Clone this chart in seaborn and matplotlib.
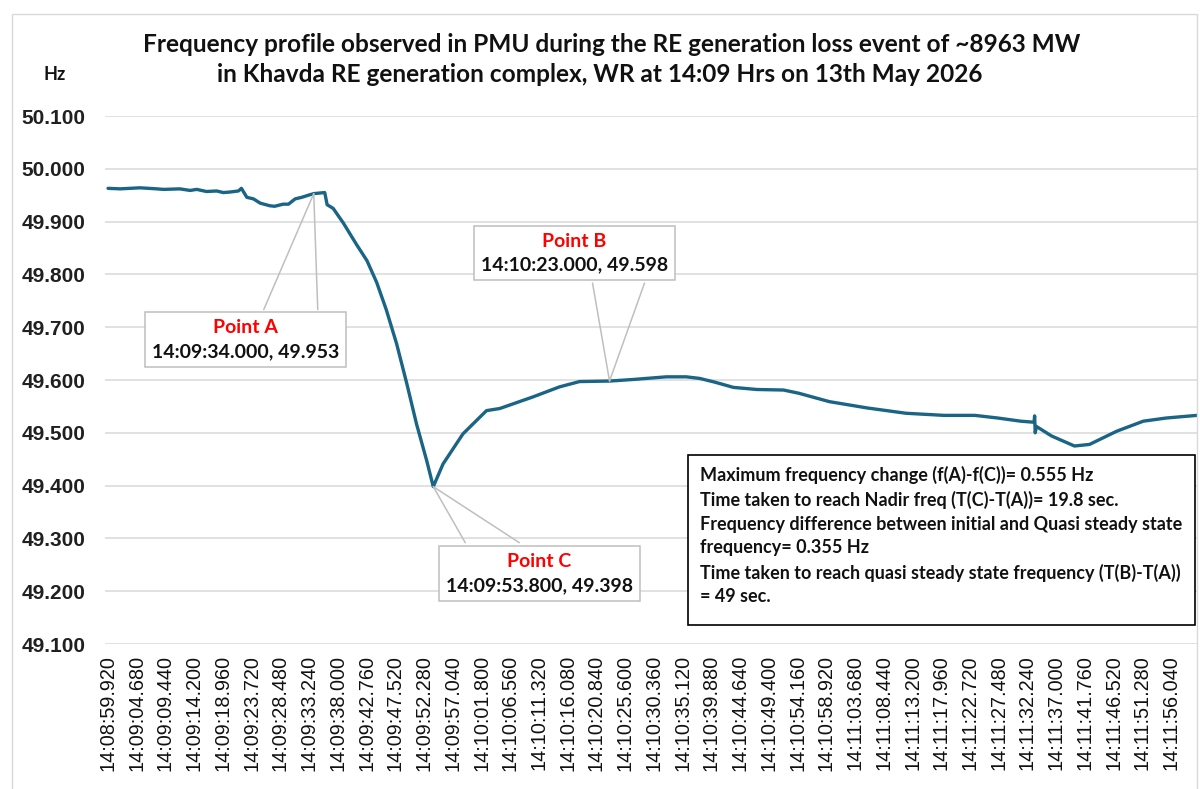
import matplotlib
matplotlib.use("Agg")
import matplotlib.pyplot as plt
import seaborn as sns
import pandas as pd
from matplotlib.patches import Rectangle
from matplotlib.offsetbox import TextArea, VPacker, AnnotationBbox

# ---------------- data ----------------
tick_labels = [
    "14:08:59.920", "14:09:04.680", "14:09:09.440", "14:09:14.200", "14:09:18.960",
    "14:09:23.720", "14:09:28.480", "14:09:33.240", "14:09:38.000", "14:09:42.760",
    "14:09:47.520", "14:09:52.280", "14:09:57.040", "14:10:01.800", "14:10:06.560",
    "14:10:11.320", "14:10:16.080", "14:10:20.840", "14:10:25.600", "14:10:30.360",
    "14:10:35.120", "14:10:39.880", "14:10:44.640", "14:10:49.400", "14:10:54.160",
    "14:10:58.920", "14:11:03.680", "14:11:08.440", "14:11:13.200", "14:11:17.960",
    "14:11:22.720", "14:11:27.480", "14:11:32.240", "14:11:37.000", "14:11:41.760",
    "14:11:46.520", "14:11:51.280", "14:11:56.040",
]

# seconds after 14:08:59.920
time_s = [
    0.0, 2.0, 5.3, 8.1, 9.2, 11.9, 13.6, 14.7, 16.3, 18.0, 19.1, 20.2, 21.6, 22.1,
    23.0, 24.1, 25.2, 26.8, 27.6, 29.0, 29.9, 31.0, 32.1, 33.2, 34.08, 35.9, 36.3,
    37.3, 39.0, 41.2, 42.9, 44.5, 46.1, 47.8, 49.5, 51.1, 52.8, 53.88, 55.5,
    58.8, 62.7, 64.9, 70.4, 74.8, 78.1, 83.08, 87.0, 92.5, 95.8, 98.0, 100.5, 103.6,
    107.5, 111.9, 114.4, 119.5, 125.8, 132.2, 138.5, 143.6, 147.4, 151.2, 153.4,
    153.5, 153.6, 153.8, 156.3, 160.1, 162.6, 167.1, 171.5, 175.3, 180.4,
]
freq_hz = [
    49.963, 49.962, 49.964, 49.962, 49.961, 49.962, 49.959, 49.961, 49.957, 49.958,
    49.955, 49.956, 49.958, 49.963, 49.946, 49.943, 49.935, 49.930, 49.929, 49.933,
    49.933, 49.943, 49.946, 49.950, 49.953, 49.955, 49.932, 49.925, 49.897, 49.856,
    49.826, 49.785, 49.733, 49.669, 49.593, 49.517, 49.447, 49.398, 49.441,
    49.498, 49.542, 49.546, 49.568, 49.587, 49.597, 49.598, 49.601, 49.606, 49.606,
    49.603, 49.596, 49.586, 49.582, 49.581, 49.575, 49.559, 49.547, 49.537, 49.533,
    49.533, 49.528, 49.522, 49.520, 49.532, 49.500, 49.512, 49.494, 49.475, 49.478,
    49.503, 49.522, 49.528, 49.533,
]

point_names = ["Point A", "Point B", "Point C"]
point_times = [34.08, 83.08, 53.88]
point_freqs = [49.953, 49.598, 49.398]
point_stamps = ["14:09:34.000", "14:10:23.000", "14:09:53.800"]

y_ticks = [49.1, 49.2, 49.3, 49.4, 49.5, 49.6, 49.7, 49.8, 49.9, 50.0, 50.1]

title_lines = [
    "Frequency profile observed in PMU during the RE generation loss event of ~8963 MW",
    "in Khavda RE generation complex, WR at 14:09 Hrs on 13th May 2026",
]
stats_lines = [
    "Maximum frequency change (f(A)-f(C))= 0.555 Hz",
    "Time taken to reach Nadir freq (T(C)-T(A))= 19.8 sec.",
    "Frequency difference between initial and Quasi steady state",
    "frequency= 0.355 Hz",
    "Time taken to reach quasi steady state frequency (T(B)-T(A))",
    "= 49 sec.",
]

# ---------------- figure ----------------
sns.set_theme(style="white")
plt.rcParams["font.family"] = ["Liberation Sans", "DejaVu Sans"]
UI = ["Lato", "DejaVu Sans"]

W, H = 1200, 789
fig = plt.figure(figsize=(W / 100, H / 100), dpi=100)
ax = fig.add_axes([105 / W, 1 - 644 / H, (1197 - 105) / W, 528 / H])

df = pd.DataFrame({"t": time_s, "f": freq_hz})
sns.lineplot(data=df, x="t", y="f", ax=ax, color="#1A6485", linewidth=2.4,
             sort=False, estimator=None)

def tsec(s):
    h, m, rest = s.split(":")
    return int(h) * 3600 + int(m) * 60 + float(rest)

t0 = tsec(tick_labels[0])
tick_pos = [tsec(s) - t0 for s in tick_labels]

ax.set_xlim(-0.5, 180.4)
ax.set_ylim(49.1, 50.1)
ax.set_yticks(y_ticks)
ax.set_yticklabels([f"{v:.3f}" for v in y_ticks], fontsize=15, fontweight="bold",
                   color="#202020")
ax.set_xticks(tick_pos)
ax.set_xticklabels(tick_labels, rotation=90, fontsize=14.3, color="#111111")
ax.tick_params(axis="x", length=0, pad=8)
ax.tick_params(axis="y", length=0, pad=14)
ax.set_xlabel("")
ax.set_ylabel("")
ax.grid(axis="y", color="#D9D9D9", linewidth=1.1)
ax.grid(axis="x", visible=False)
for sp in ax.spines.values():
    sp.set_visible(False)
ax.set_axisbelow(True)

# ---------------- callouts ----------------
# (box centre offset, left/right pointer base offsets) in pixels relative to the point
callouts = {
    "Point A": ((-68, -146), (-50, -116), (4, -116)),
    "Point B": ((-35, 128), (-17, 98), (35, 98)),
    "Point C": ((106, -87), (32, -56), (86, -56)),
}
grey = "#BFBFBF"
cfs = 14
for name, t, f, stamp in zip(point_names, point_times, point_freqs, point_stamps):
    box_off, la, lb = callouts[name]
    for off in (la, lb):
        ax.annotate("", xy=(t, f), xytext=off, textcoords="offset pixels",
                    arrowprops=dict(arrowstyle="-", color=grey, lw=1.1,
                                    shrinkA=0, shrinkB=0), zorder=4)
    label = stamp + f", {f:.3f}"
    ta1 = TextArea(name, textprops=dict(color="#FF0000", fontsize=cfs,
                                        fontweight="bold", family=UI))
    ta2 = TextArea(label, textprops=dict(color="#111111", fontsize=cfs,
                                         fontweight="bold", family=UI))
    pack = VPacker(children=[ta1, ta2], align="center", pad=5, sep=5)
    ab = AnnotationBbox(pack, (t, f), xybox=box_off, xycoords="data",
                        boxcoords="offset pixels", box_alignment=(0.5, 0.5),
                        frameon=True, pad=0,
                        bboxprops=dict(boxstyle="square,pad=0", fc="white",
                                       ec=grey, lw=1.1))
    ab.set_zorder(5)
    ax.add_artist(ab)

# ---------------- stats box ----------------
fig.add_artist(Rectangle((688 / W, 1 - 625 / H), (1195 - 688) / W, (625 - 455) / H,
                         transform=fig.transFigure, fc="white", ec="black", lw=1.2,
                         zorder=5))
fig.text(700 / W, 1 - 466 / H, "\n".join(stats_lines), ha="left", va="top",
         fontsize=13, fontweight="bold", color="#111111",
         family=UI, linespacing=1.47, zorder=6)

# ---------------- titles / frame ----------------
fig.text(612 / W, 1 - 44 / H, title_lines[0], ha="center", va="center",
         fontsize=17.6, fontweight="bold", family=UI, color="#111111")
fig.text(600 / W, 1 - 75 / H, title_lines[1], ha="center", va="center",
         fontsize=17.6, fontweight="bold", family=UI, color="#111111")
fig.text(55 / W, 1 - 75 / H, "Hz", ha="center", va="center", fontsize=13,
         fontweight="bold", family=UI, color="#111111")

fig.add_artist(Rectangle((12 / W, -0.05), (1197 - 12) / W, 1.05 - 14 / H,
                         transform=fig.transFigure, fc="none", ec="#D9D9D9", lw=1.0))

fig.savefig("out.png", dpi=100, facecolor="white")
